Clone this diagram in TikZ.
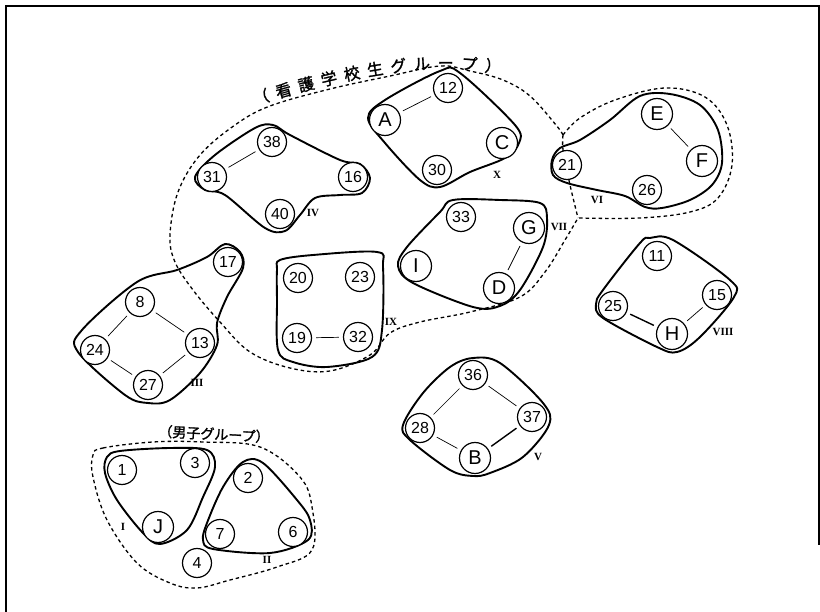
\documentclass[tikz,border=0pt]{standalone}
\usepackage{fontspec}
\setmainfont{Liberation Sans}
\newfontfamily\jpfont[FakeBold=1.5]{Noto Sans CJK JP}
\newfontfamily\romfont{Liberation Serif}
\usetikzlibrary{decorations.text}
\tikzset{
 numnode/.style={circle, draw, line width=1.2pt, minimum size=29pt, inner sep=0pt, fill=white, font=\fontsize{16}{16}\selectfont},
 letnode/.style={numnode, minimum size=31pt, font=\fontsize{20}{20}\selectfont},
 blob/.style={line width=1.9pt, line join=round},
 grp/.style={line width=1.3pt, dash pattern=on 3.5pt off 3pt},
 link/.style={line width=0.7pt, shorten >=4pt, shorten <=4pt},
 thicklink/.style={link, line width=1.4pt},
 roman/.style={font=\romfont\bfseries\fontsize{11}{11}\selectfont, inner sep=1pt},
}
\begin{document}
\begin{tikzpicture}[x=1pt,y=-1pt]
\useasboundingbox (0,0) rectangle (820,612);
% frame
\draw[line width=1.5pt] (6,612) -- (6,6) -- (819,6) -- (819,545);

% dashed group outlines
\draw[grp] plot[smooth, tension=0.6] coordinates {(563,135) (556,125) (530,96) (503,80) (470,71) (440,66) (390,76) (330,89) (270,106) (235,125) (200,155) (178,192) (170,235) (175,262) (193,290) (220,322) (250,352) (290,368) (330,371) (370,355) (390,333) (420,322) (470,312) (520,297) (545,272) (565,240) (578,218)};
\draw[grp] plot[smooth, tension=0.6] coordinates {(563,135) (580,118) (615,100) (665,88) (705,97) (727,125) (732,165) (718,198) (690,212) (640,218) (578,218)};
\draw[grp] plot[smooth, tension=0.5] coordinates {(563,135) (563,150) (570,185) (578,218)};
\draw[grp] plot[smooth cycle, tension=0.6] coordinates {(93,455) (103,448) (153,442) (203,442) (260,447) (300,477) (312,507) (312,550) (277,567) (230,580) (197,588) (170,583) (137,563) (107,520) (93,477)};

% solid group outlines
\draw[blob] plot[smooth cycle, tension=0.55] coordinates {(195,177) (215,155) (255,128) (273,125) (290,135) (340,160) (360,164) (370,178) (362,193) (340,195) (315,198) (300,215) (285,231) (265,228) (225,195) (205,190)};
\draw[blob] plot[smooth cycle, tension=0.55] coordinates {(368,118) (385,100) (440,71) (460,73) (515,125) (519,143) (505,158) (470,172) (440,187) (420,180) (385,143)};
\draw[blob] plot[smooth cycle, tension=0.55] coordinates {(552,160) (560,148) (580,140) (610,120) (640,96) (670,94) (700,105) (718,130) (722,163) (712,185) (690,200) (662,208) (645,207) (625,196) (597,190) (567,183) (553,175)};
\draw[blob] plot[smooth cycle, tension=0.55] coordinates {(453,200) (500,200) (540,203) (547,218) (543,247) (520,290) (500,306) (473,307) (413,283) (398,266) (407,247) (440,212)};
\draw[blob] plot[smooth cycle, tension=0.55] coordinates {(650,238) (673,240) (730,280) (734,297) (700,337) (677,352) (657,347) (603,318) (596,304) (603,290) (640,243)};
\draw[blob] plot[smooth cycle, tension=0.55] coordinates {(280,260) (313,255) (377,252) (383,267) (382,330) (372,357) (327,367) (293,362) (278,350) (277,300) (277,270)};
\draw[blob] plot[smooth cycle, tension=0.55] coordinates {(225,244) (240,252) (243,268) (227,297) (217,323) (217,345) (200,373) (170,400) (148,403) (125,395) (78,352) (82,330) (137,282) (177,270) (207,257)};
\draw[blob] plot[smooth cycle, tension=0.55] coordinates {(473,358) (500,363) (543,403) (549,425) (523,457) (490,473) (473,476) (450,470) (410,440) (403,425) (423,393) (450,367)};
\draw[blob] plot[smooth cycle, tension=0.55] coordinates {(107,457) (120,451) (170,448) (207,450) (215,467) (203,497) (187,530) (160,544) (143,533) (117,500) (105,473)};
\draw[blob] plot[smooth cycle, tension=0.55] coordinates {(243,462) (263,463) (297,500) (310,520) (308,540) (270,553) (213,549) (203,540) (207,523) (223,487)};

% nodes
\node[numnode] (n38) at (272,142) {38};
\node[numnode] (n31) at (212,177) {31};
\node[numnode] (n16) at (353,177) {16};
\node[numnode] (n40) at (280,214) {40};
\node[letnode] (nA) at (385,120) {A};
\node[numnode] (n12) at (448,88) {12};
\node[letnode] (nC) at (502,143) {C};
\node[numnode] (n30) at (437,170) {30};
\node[letnode] (nE) at (657,114) {E};
\node[letnode] (nF) at (702,161) {F};
\node[numnode] (n21) at (567,165) {21};
\node[numnode] (n26) at (647,190) {26};
\node[numnode] (n33) at (461,217) {33};
\node[letnode] (nG) at (529,228) {G};
\node[letnode] (nI) at (416,266) {I};
\node[letnode] (nD) at (499,288) {D};
\node[numnode] (n11) at (657,256) {11};
\node[numnode] (n15) at (717,295) {15};
\node[numnode] (n25) at (613,306) {25};
\node[letnode] (nH) at (672,334) {H};
\node[numnode] (n17) at (228,262) {17};
\node[numnode] (n8) at (140,302) {8};
\node[numnode] (n13) at (200,343) {13};
\node[numnode] (n24) at (95,350) {24};
\node[numnode] (n27) at (148,385) {27};
\node[numnode] (n20) at (298,278) {20};
\node[numnode] (n23) at (360,277) {23};
\node[numnode] (n19) at (297,338) {19};
\node[numnode] (n32) at (358,337) {32};
\node[numnode] (n36) at (473,375) {36};
\node[numnode] (n28) at (420,428) {28};
\node[numnode] (n37) at (532,417) {37};
\node[letnode] (nB) at (475,458) {B};
\node[numnode] (n1) at (122,470) {1};
\node[numnode] (n3) at (195,463) {3};
\node[letnode] (nJ) at (158,527) {J};
\node[numnode] (n2) at (248,478) {2};
\node[numnode] (n7) at (220,534) {7};
\node[numnode] (n6) at (293,532) {6};
\node[numnode] (n4) at (197,563) {4};

% links
\draw[link] (n38) -- (n31);
\draw[link] (nA) -- (n12);
\draw[link] (nE) -- (nF);
\draw[link] (nG) -- (nD);
\draw[link] (n19) -- (n32);
\draw[link] (n8) -- (n24);
\draw[link] (n8) -- (n13);
\draw[link] (n24) -- (n27);
\draw[link] (n13) -- (n27);
\draw[link] (n36) -- (n28);
\draw[link] (n36) -- (n37);
\draw[link] (n28) -- (nB);
\draw[thicklink] (n37) -- (nB);
\draw[thicklink] (n25) -- (nH);
\draw[link] (nH) -- (n15);

% roman numerals
\node[roman] (rI) at (123,527) {I};
\node[roman] (rII) at (267,560) {II};
\node[roman] (rIII) at (197,383) {III};
\node[roman] (rIV) at (313,213) {IV};
\node[roman] (rV) at (538,457) {V};
\node[roman] (rVI) at (597,200) {VI};
\node[roman] (rVII) at (559,227) {VII};
\node[roman] (rVIII) at (723,332) {VIII};
\node[roman] (rIX) at (391,322) {IX};
\node[roman] (rX) at (497,175) {X};

% group titles
\path[decorate, decoration={text along path, text={|\jpfont\fontsize{16}{16}\selectfont|（看護学校生グループ）}, text align={fit to path}}] (255,105) .. controls (330,83) and (420,58) .. (500,74);
\node[font=\jpfont\fontsize{14}{14}\selectfont, rotate=-3, inner sep=0pt] (mlabel) at (214,434) {（男子グループ）};
\end{tikzpicture}
\end{document}
